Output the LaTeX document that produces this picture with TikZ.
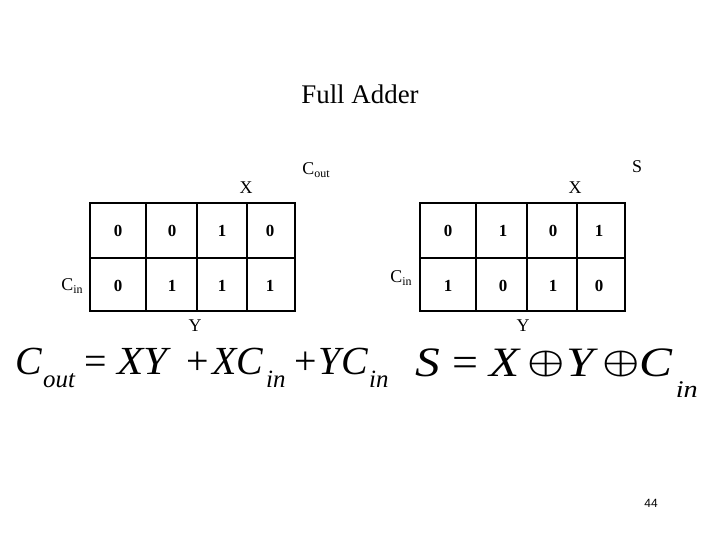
\documentclass[tikz,border=0pt]{standalone}
\usepackage{fontspec}
\setmainfont{Liberation Serif}
\newfontfamily\pagefont{Liberation Sans}
\newcommand\lsub[1]{\raisebox{-0.35ex}{\fontsize{12}{12}\selectfont #1}}
\begin{document}
\begin{tikzpicture}[x=1bp,y=-1bp,
  grid/.style={line width=2.6bp},
  cell/.style={font=\fontsize{17}{17}\selectfont\bfseries, inner sep=0},
  lab/.style={font=\fontsize{18}{18}\selectfont, inner sep=0},
  eqa/.style={font=\fontsize{40}{40}\selectfont, inner sep=0, anchor=base west},
  suba/.style={font=\fontsize{25}{25}\selectfont\itshape, inner sep=0, anchor=base west},
  eqb/.style={font=\fontsize{42}{42}\selectfont, inner sep=0, anchor=base west},
  subb/.style={font=\fontsize{24}{24}\selectfont\itshape, inner sep=0, anchor=base west},
  opl/.style={inner sep=0}]
\useasboundingbox (0,0) rectangle (720,540);
\node[font=\fontsize{27}{27}\selectfont] (title) at (360,94) {Full Adder};
% left K-map (Cout)
\draw[grid] (90,203) rectangle (295,311);
\draw[grid] (90,258) -- (295,258);
\foreach \x in {146,197,247} \draw[grid] (\x,203) -- (\x,311);
\node[cell] (a1) at (118,231) {0};
\node[cell] (a2) at (172,231) {0};
\node[cell] (a3) at (222,231) {1};
\node[cell] (a4) at (270,231) {0};
\node[cell] (a5) at (118,286) {0};
\node[cell] (a6) at (172,286) {1};
\node[cell] (a7) at (222,286) {1};
\node[cell] (a8) at (270,286) {1};
\node[lab] (lx) at (246,188) {X};
\node[lab] (ly) at (195,326) {Y};
\node[lab] (lcin) at (72,286) {C\lsub{in}};
\node[lab] (lcout) at (316,170) {C\lsub{out}};
% right K-map (S)
\draw[grid] (420,203) rectangle (625,311);
\draw[grid] (420,258) -- (625,258);
\foreach \x in {476,527,577} \draw[grid] (\x,203) -- (\x,311);
\node[cell] (b1) at (448,231) {0};
\node[cell] (b2) at (503,231) {1};
\node[cell] (b3) at (553,231) {0};
\node[cell] (b4) at (599,231) {1};
\node[cell] (b5) at (448,286) {1};
\node[cell] (b6) at (503,286) {0};
\node[cell] (b7) at (553,286) {1};
\node[cell] (b8) at (599,286) {0};
\node[lab] (rx) at (575,188) {X};
\node[lab] (ry) at (523,326) {Y};
\node[lab] (rcin) at (401,278) {C\lsub{in}};
\node[lab] (rs) at (637,167) {S};
% equation for Cout
\node[eqa] (eC) at (15.4,374) {\textit{C}};
\node[suba] (eout) at (43,387) {out};
\node[eqa] (eq1) at (84.5,374) {=};
\node[eqa] (eXY) at (117,374) {\scalebox{1.08}[1]{\textit{XY}}};
\node[eqa] (ep1) at (186,374) {+};
\node[eqa] (eXC) at (212,374) {\textit{XC}};
\node[suba] (ein1) at (266,387) {in};
\node[eqa] (ep2) at (294,374) {+};
\node[eqa] (eYC) at (318.7,374) {\textit{YC}};
\node[suba] (ein2) at (369,387) {in};
% equation for S
\node[eqb] (sS) at (415,376) {\scalebox{1.18}[1]{\textit{S}}};
\node[eqb] (seq) at (452.5,376) {\scalebox{1.1}[1]{=}};
\node[eqb] (sX) at (489.5,376) {\scalebox{1.18}[1]{\textit{X}}};
\node[opl] (so1) at (546,364) {\scalebox{4.2}[3.4]{\boldmath$\oplus$}};
\node[eqb] (sY) at (566.4,376) {\scalebox{1.18}[1]{\textit{Y}}};
\node[opl] (so2) at (621,364) {\scalebox{4.2}[3.4]{\boldmath$\oplus$}};
\node[eqb] (sC) at (639.7,376) {\scalebox{1.18}[1]{\textit{C}}};
\node[subb] (sin) at (675.6,397.7) {\scalebox{1.18}[1]{in}};
\node[font=\pagefont\fontsize{12}{12}\selectfont] (pg) at (651,503) {44};
\end{tikzpicture}
\end{document}
